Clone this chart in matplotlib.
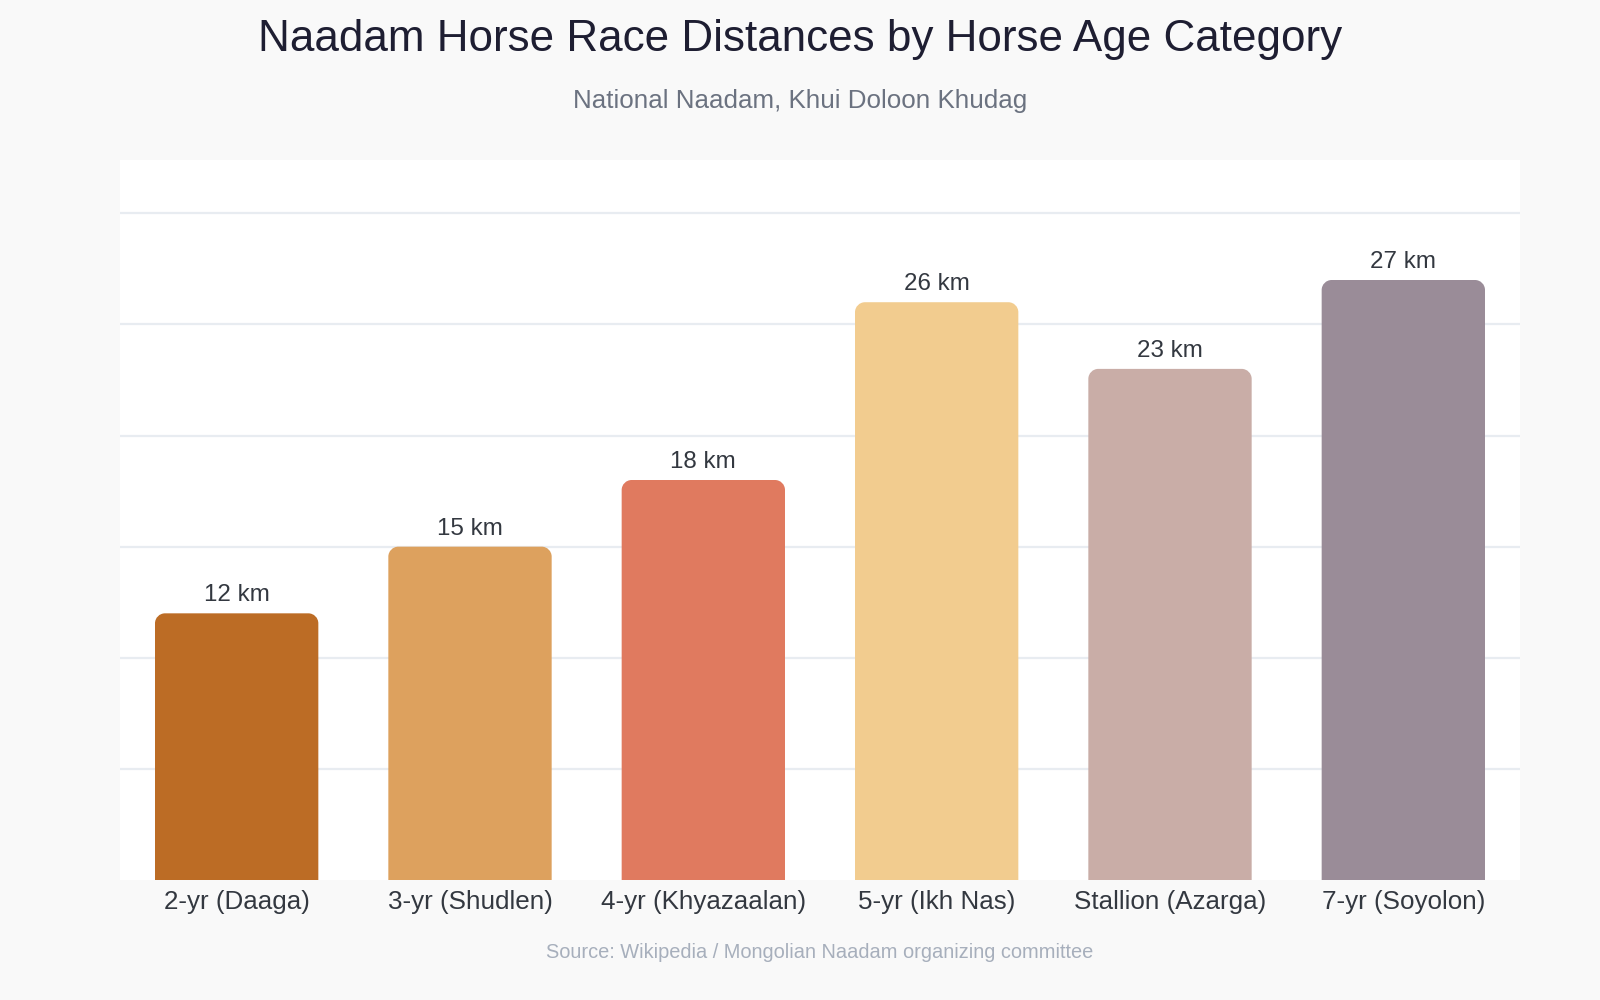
import numpy as np
import matplotlib
matplotlib.use('Agg')

import matplotlib.pyplot as plt
from matplotlib.path import Path
from matplotlib.patches import PathPatch

categories = ['2-yr (Daaga)', '3-yr (Shudlen)', '4-yr (Khyazaalan)',
              '5-yr (Ikh Nas)', 'Stallion (Azarga)', '7-yr (Soyolon)']
distances_km = [12, 15, 18, 26, 23, 27]
bar_colors = ['#BC6C25', '#DDA15E', '#E07A5F', '#F2CC8F', '#C9ADA7', '#9A8C98']

plt.rcParams['font.family'] = ['Liberation Sans', 'DejaVu Sans']


def rounded_top_bar(ax, x, w, h, rx, ry, color):
    # rectangle with the two top corners rounded (radius given in data units per axis)
    k = 0.5523
    x0, x1 = x - w / 2, x + w / 2
    verts = [
        (x0, 0), (x0, h - ry),
        (x0, h - ry + k * ry), (x0 + rx - k * rx, h), (x0 + rx, h),
        (x1 - rx, h),
        (x1 - rx + k * rx, h), (x1, h - ry + k * ry), (x1, h - ry),
        (x1, 0), (x0, 0),
    ]
    codes = [Path.MOVETO, Path.LINETO,
             Path.CURVE4, Path.CURVE4, Path.CURVE4,
             Path.LINETO,
             Path.CURVE4, Path.CURVE4, Path.CURVE4,
             Path.LINETO, Path.CLOSEPOLY]
    ax.add_patch(PathPatch(Path(verts, codes), facecolor=color,
                           edgecolor='none', zorder=3))


fig = plt.figure(figsize=(16, 10), dpi=100, facecolor='#F9F9F9')
ax = fig.add_axes([0.075, 0.12, 0.875, 0.72])
ax.set_facecolor('white')

ymax = max(distances_km) * 1.2
ax.set_xlim(-0.5, len(categories) - 0.5)
ax.set_ylim(0, ymax)

# pixel -> data scale for the corner radius
ax_w_px = 0.875 * 1600
ax_h_px = 0.72 * 1000
radius_px = 10
rx = radius_px * len(categories) / ax_w_px
ry = radius_px * ymax / ax_h_px

x = np.arange(len(categories))
bar_w = 0.7
for xi, val, col in zip(x, distances_km, bar_colors):
    rounded_top_bar(ax, xi, bar_w, val, rx, ry, col)
    ax.annotate(f'{val} km', (xi, val), xytext=(0, 5), textcoords='offset points',
                ha='center', va='bottom', fontsize=17.4, color='#333840')

ax.set_yticks(np.arange(5, ymax, 5))
ax.yaxis.grid(True, color='#E8ECF1', linewidth=1.6)
ax.set_axisbelow(True)
ax.tick_params(axis='y', left=False, labelleft=False)
ax.set_xticks(x)
ax.set_xticklabels(categories, fontsize=18.7, color='#333840')
ax.tick_params(axis='x', length=0, pad=7)
for s in ax.spines.values():
    s.set_visible(False)

fig.text(0.5, 0.961, 'Naadam Horse Race Distances by Horse Age Category',
         ha='center', va='center', fontsize=31.7, color='#1E1E32')
fig.text(0.5, 0.899, 'National Naadam, Khui Doloon Khudag',
         ha='center', va='center', fontsize=18.7, color='#6B7280')
fig.text(0.512, 0.048, 'Source: Wikipedia / Mongolian Naadam organizing committee',
         ha='center', va='center', fontsize=14.4, color='#A7AFBC')

fig.savefig('out.png', dpi=100, facecolor=fig.get_facecolor())
